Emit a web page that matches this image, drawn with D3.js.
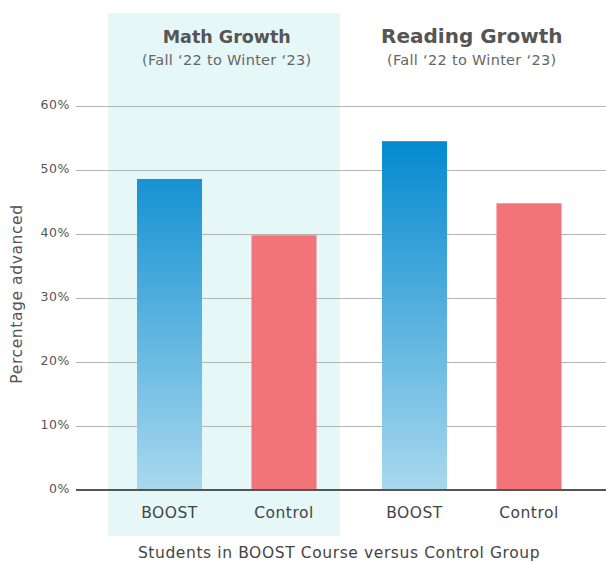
<!DOCTYPE html>
<html>
<head>
<meta charset="utf-8">
<script src="https://cdn.jsdelivr.net/npm/d3@7"></script>
<style>
  body { margin: 0; background: #fff; }
  svg { display: block; font-family: "DejaVu Sans", sans-serif; }
</style>
</head>
<body>
<div id="chart"></div>
<script>
// data
var subjects = ['Math Growth', 'Reading Growth'];
var subtitles = ['(Fall \u201822 to Winter \u201823)', '(Fall \u201822 to Winter \u201823)'];
var groups = ['BOOST', 'Control'];
var boostValues = [48.6, 54.5];
var controlValues = [39.8, 44.8];
var yTicks = [0, 10, 20, 30, 40, 50, 60];

var width = 606,
	height = 563;

var svg = d3.select('#chart')
	.append('svg')
		.attr('width', width)
		.attr('height', height);

var y = d3.scaleLinear().domain([0, 60]).range([490, 106]);

var x0 = d3.scaleBand().domain(subjects).range([104.25, 594.25]).padding(0);
var x1 = d3.scaleBand().domain(groups).range([0, 245]).paddingInner(0.432).paddingOuter(0.286);

// gradient for BOOST bars
var defs = svg.append('defs');
var grad = defs.append('linearGradient')
	.attr('id', 'boostGrad')
	.attr('gradientUnits', 'userSpaceOnUse')
	.attr('x1', 0).attr('x2', 0)
	.attr('y1', y(55)).attr('y2', y(0));
grad.append('stop').attr('offset', '0%').attr('stop-color', '#0389cf');
grad.append('stop').attr('offset', '100%').attr('stop-color', '#a9d8ee');

// highlighted math panel
svg.append('rect')
	.attr('x', 108)
	.attr('y', 13)
	.attr('width', 232)
	.attr('height', 523)
	.attr('fill', '#e5f7f7');

// gridlines
svg.append('g')
	.selectAll('line')
	.data(yTicks.filter(function(d){ return d > 0; }))
	.enter()
	.append('line')
		.attr('x1', 76)
		.attr('x2', width)
		.attr('y1', function(d){ return y(d) + 0.5; })
		.attr('y2', function(d){ return y(d) + 0.5; })
		.attr('stroke', '#b4b4b4')
		.attr('stroke-width', 1);

// tick labels
svg.append('g')
	.selectAll('text')
	.data(yTicks)
	.enter()
	.append('text')
		.attr('x', 70)
		.attr('y', function(d){ return y(d) + 3; })
		.attr('text-anchor', 'end')
		.attr('font-size', 12.5)
		.attr('letter-spacing', 0.6)
		.attr('fill', '#555')
		.text(function(d){ return d + '%'; });

// bars
var rows = subjects.map(function(s, i){
	return { subject: s, values: [
		{ group: 'BOOST', value: boostValues[i] },
		{ group: 'Control', value: controlValues[i] }
	] };
});

var grp = svg.selectAll('.subject')
	.data(rows)
	.enter()
	.append('g')
		.attr('class', 'subject')
		.attr('transform', function(d){ return 'translate(' + x0(d.subject) + ',0)'; });

grp.selectAll('rect')
	.data(function(d){ return d.values; })
	.enter()
	.append('rect')
		.attr('x', function(d){ return x1(d.group); })
		.attr('width', x1.bandwidth())
		.attr('y', function(d){ return y(d.value); })
		.attr('height', function(d){ return y(0) - y(d.value); })
		.attr('fill', function(d){ return d.group === 'BOOST' ? 'url(#boostGrad)' : '#f27378'; });

grp.selectAll('.cat')
	.data(function(d){ return d.values; })
	.enter()
	.append('text')
		.attr('class', 'cat')
		.attr('x', function(d){ return x1(d.group) + x1.bandwidth() / 2; })
		.attr('y', 518)
		.attr('text-anchor', 'middle')
		.attr('font-size', 15.5)
		.attr('letter-spacing', 0.5)
		.attr('fill', '#444')
		.text(function(d){ return d.group; });

// titles
grp.append('text')
	.attr('x', x0.bandwidth() / 2)
	.attr('y', 43)
	.attr('text-anchor', 'middle')
	.attr('font-size', function(d, i){ return i === 0 ? 17.5 : 20; })
	.attr('font-weight', 600)
	.attr('fill', '#555')
	.text(function(d){ return d.subject; });

grp.append('text')
	.attr('x', x0.bandwidth() / 2)
	.attr('y', 65)
	.attr('text-anchor', 'middle')
	.attr('font-size', 14.5)
	.attr('letter-spacing', 0.3)
	.attr('fill', '#666')
	.text(function(d, i){ return subtitles[i]; });

// baseline
svg.append('line')
	.attr('x1', 76)
	.attr('x2', width)
	.attr('y1', y(0))
	.attr('y2', y(0))
	.attr('stroke', '#555')
	.attr('stroke-width', 2);

// axis titles
svg.append('text')
	.attr('transform', 'translate(22,294) rotate(-90)')
	.attr('text-anchor', 'middle')
	.attr('font-size', 15.5)
	.attr('letter-spacing', 0.6)
	.attr('fill', '#555')
	.text('Percentage  advanced');

svg.append('text')
	.attr('x', 339)
	.attr('y', 558)
	.attr('text-anchor', 'middle')
	.attr('font-size', 15.5)
	.attr('letter-spacing', 0.6)
	.attr('fill', '#444')
	.text('Students in BOOST Course versus Control Group');
</script>
</body>
</html>
